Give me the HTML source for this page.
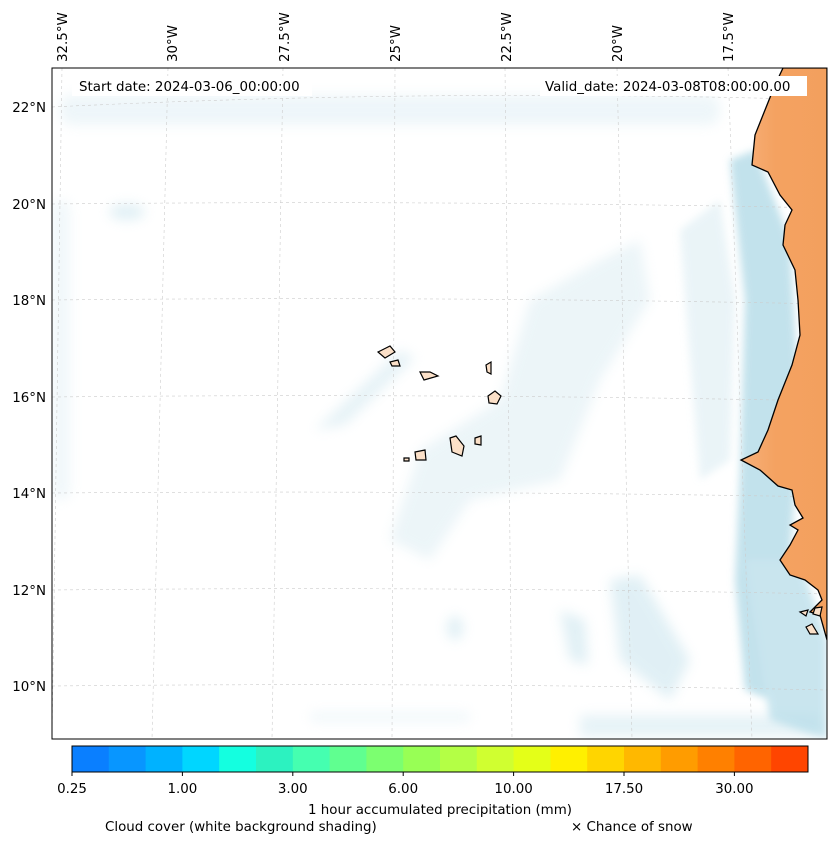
<!DOCTYPE html>
<html><head><meta charset="utf-8"><style>
body{margin:0;background:#fff;font-family:"Liberation Sans","DejaVu Sans",sans-serif;}
svg text{font-family:"DejaVu Sans","Liberation Sans",sans-serif;font-size:13.4px;fill:#000}
</style></head><body>
<svg width="837" height="844" xmlns="http://www.w3.org/2000/svg">
<defs>
<filter id="blur" x="-20%" y="-20%" width="140%" height="140%"><feGaussianBlur stdDeviation="6"/></filter>
<filter id="blur2" x="-20%" y="-20%" width="140%" height="140%"><feGaussianBlur stdDeviation="4"/></filter>
<linearGradient id="landg" x1="0" x2="1" y1="0" y2="0"><stop offset="0" stop-color="#f7b07a"/><stop offset="0.4" stop-color="#f4a261"/><stop offset="1" stop-color="#f3a05e"/></linearGradient>
<clipPath id="mapclip"><rect x="52" y="68" width="775" height="671"/></clipPath>
</defs>
<rect width="837" height="844" fill="#fff"/>
<g clip-path="url(#mapclip)">
 <g filter="url(#blur)" opacity="0.35">
  <rect x="60" y="95" width="660" height="30" rx="12" fill="#cfe6ef"/>
  <rect x="52" y="200" width="18" height="300" rx="8" fill="#d6eaf2"/>
  <ellipse cx="127" cy="212" rx="18" ry="8" fill="#a8d4e3"/>
  <polygon points="315,430 400,350 415,358 345,425" fill="#b9dce8"/>
  <polygon points="390,540 420,450 500,400 530,300 600,260 640,240 650,300 600,380 560,480 470,500 430,560" fill="#c9e3ec"/>
  <rect x="580" y="715" width="240" height="22" fill="#b9dce8"/>
  <rect x="310" y="712" width="160" height="10" fill="#d6eaf2"/>
  <polygon points="610,580 640,575 690,660 670,700 620,660" fill="#a8d4e3"/>
  <polygon points="560,610 585,620 588,665 570,660" fill="#a8d4e3"/>
  <ellipse cx="455" cy="628" rx="8" ry="12" fill="#a8d4e3"/>
 </g>
 <g filter="url(#blur2)" opacity="0.7">
  <polygon points="730,160 755,150 790,240 800,420 790,560 770,700 745,690 735,580 740,470 745,300" fill="#a9d6e4"/>
  <polygon points="680,230 720,200 735,300 730,460 700,480 690,360" fill="#cfe6ef" opacity="0.6"/>
  <polygon points="745,560 800,560 827,640 827,739 770,720" fill="#b3dbe8"/>
 </g>
 <g stroke="#ccc" stroke-width="0.6" stroke-dasharray="3,3" fill="none">
  <path d="M52,107 Q440,88 827,100"/><path d="M52,204 Q440,200 827,208"/><path d="M52,300 Q440,296 827,304"/><path d="M52,397 Q440,393 827,401"/><path d="M52,493 Q440,490 827,497"/><path d="M52,590 Q440,586 827,594"/><path d="M52,686 Q440,682 827,690"/>
  <path d="M62,68 L52,739"/><path d="M168,68 L152,739"/><path d="M283,68 L272,739"/><path d="M395,68 L392,739"/><path d="M505,68 L512,739"/><path d="M617,68 L632,739"/><path d="M728,68 L752,739"/>
 </g>
 <path fill="url(#landg)" stroke="#000" stroke-width="1.3" d="M783,68 L775,85 L765,110 L755,135 L752,165 L768,172 L780,195 L792,210 L785,225 L783,245 L795,270 L798,300 L800,335 L792,365 L778,400 L768,430 L758,452 L741,460 L760,470 L778,486 L792,490 L795,505 L803,518 L790,525 L798,530 L790,545 L780,560 L790,575 L805,580 L818,590 L822,600 L810,612 L820,615 L827,640 L827,68 Z"/>
 <g fill="#fbe0c8" stroke="#000" stroke-width="1.2">
  <path d="M378,352 L390,346 L395,352 L385,358 Z"/>
  <path d="M390,362 L398,360 L400,366 L392,366 Z"/>
  <path d="M420,372 L430,372 L438,376 L424,380 Z"/>
  <path d="M486,365 L491,362 L491,374 L487,372 Z"/>
  <path d="M488,396 L495,391 L501,396 L497,404 L489,403 Z"/>
  <path d="M475,438 L481,436 L481,445 L475,444 Z"/>
  <path d="M450,438 L456,436 L464,446 L462,456 L452,452 Z"/>
  <path d="M415,452 L425,450 L426,460 L416,460 Z"/>
  <path d="M404,458 L409,458 L409,461 L404,461 Z"/>
  <path d="M800,612 L808,610 L806,616 Z"/><path d="M815,608 L822,607 L820,616 L813,614 Z"/><path d="M806,627 L812,624 L818,634 L810,634 Z"/>
 </g>
 <rect x="72" y="76" width="240" height="20" fill="#fff"/>
 <text x="79" y="91">Start date: 2024-03-06_00:00:00</text>
 <rect x="540" y="76" width="267" height="20" fill="#fff"/>
 <text x="545" y="91">Valid_date: 2024-03-08T08:00:00.00</text>
</g>
<rect x="52" y="68" width="775" height="671" fill="none" stroke="#000" stroke-width="1"/>
<g id="lonlabels"></g>
<g id="latlabels"></g>
<g id="colorbar"></g>
<text x="440" y="814" text-anchor="middle">1 hour accumulated precipitation (mm)</text>
<text x="105" y="831">Cloud cover (white background shading)</text>
<text x="571" y="831">× Chance of snow</text>
<script>
const cbColors=["#0a7fff","#0896ff","#00b2ff","#00d6ff","#14ffe0","#2cf2c0","#45ffb0","#60ff90","#7cff70","#98ff55","#b4ff45","#d0ff30","#e4ff18","#fff000","#ffd500","#ffb800","#ff9c00","#ff8000","#ff6400","#ff4500"];
const cbTicks=["0.25","1.00","3.00","6.00","10.00","17.50","30.00"];
const lonLabels=["32.5°W","30°W","27.5°W","25°W","22.5°W","20°W","17.5°W"];
const lonX=[62,172,284,395,506,617,728];
const latLabels=["22°N","20°N","18°N","16°N","14°N","12°N","10°N"];
const latY=[107,204,300,397,493,590,686];
const NS="http://www.w3.org/2000/svg";
const cb=document.getElementById('colorbar');
const x0=72,x1=808,y0=746,h=26,w=(x1-x0)/cbColors.length;
cbColors.forEach((c,i)=>{const r=document.createElementNS(NS,'rect');


r.setAttribute('x',x0+i*w);r.setAttribute('y',y0);r.setAttribute('width',w+0.5);r.setAttribute('height',h);r.setAttribute('fill',c);cb.appendChild(r);});
const fr=document.createElementNS(NS,'rect');fr.setAttribute('x',x0);fr.setAttribute('y',y0);fr.setAttribute('width',x1-x0);fr.setAttribute('height',h);fr.setAttribute('fill','none');fr.setAttribute('stroke','#000');cb.appendChild(fr);
cbTicks.forEach((t,i)=>{const x=x0+i*3*w;
const l=document.createElementNS(NS,'line');l.setAttribute('x1',x);l.setAttribute('x2',x);l.setAttribute('y1',y0+h);l.setAttribute('y2',y0+h+4);l.setAttribute('stroke','#000');cb.appendChild(l);
const tx=document.createElementNS(NS,'text');


tx.setAttribute('x',x);tx.setAttribute('y',y0+h+21);tx.setAttribute('text-anchor','middle');tx.textContent=t;cb.appendChild(tx);});
const lg=document.getElementById('lonlabels');
lonLabels.forEach((t,i)=>{const tx=document.createElementNS(NS,'text');


tx.setAttribute('transform','translate('+(lonX[i]+5)+',62) rotate(-90)');tx.textContent=t;lg.appendChild(tx);});
const la=document.getElementById('latlabels');
latLabels.forEach((t,i)=>{const tx=document.createElementNS(NS,'text');


tx.setAttribute('x',46);tx.setAttribute('y',latY[i]+5);tx.setAttribute('text-anchor','end');tx.textContent=t;la.appendChild(tx);});
</script>
</svg>
</body></html>
